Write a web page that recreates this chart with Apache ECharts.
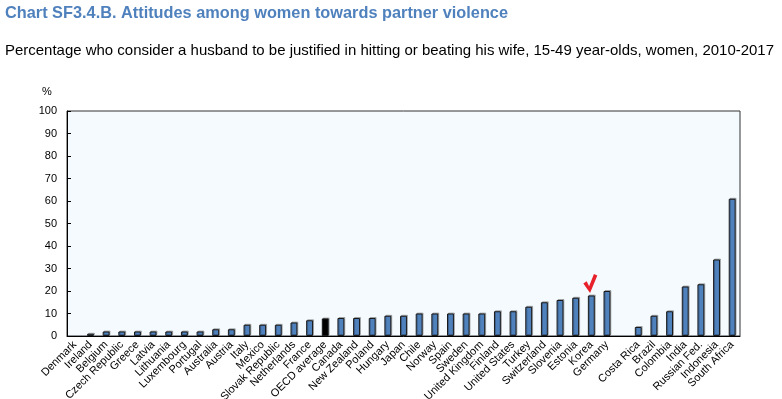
<!DOCTYPE html>
<html><head><meta charset="utf-8">
<script src="https://cdn.jsdelivr.net/npm/echarts@6/dist/echarts.min.js"></script>
<style>html,body{margin:0;padding:0;background:#fff}#c{width:782px;height:399px}</style>
</head><body><div id="c"></div>
<script>
const categories = ["Denmark","Ireland","Belgium","Czech Republic","Greece","Latvia","Lithuania","Luxembourg","Portugal","Australia","Austria","Italy","Mexico","Slovak Republic","Netherlands","France","OECD average","Canada","New Zealand","Poland","Hungary","Japan","Chile","Norway","Spain","Sweden","United Kingdom","Finland","United States","Turkey","Switzerland","Slovenia","Estonia","Korea","Germany","","Costa Rica","Brazil","Colombia","India","Russian Fed.","Indonesia","South Africa"];
const values = [null,1,2,2,2,2,2,2,2,3,3,5,5,5,6,7,7.8,8,8,8,9,9,10,10,10,10,10,11,11,13,15,16,17,18,20,null,4,9,11,22,23,34,61];
const yTicks = {min:0, max:100, interval:10};
const highlight = "OECD average";
const marked = "Korea";
const titleText = 'Chart SF3.4.B. Attitudes among women towards partner violence';
const subtitleText = 'Percentage who consider a husband to be justified in hitting or beating his wife, 15-49 year-olds, women, 2010-2017';

function fitScale(text, font, target){
  const ctx = document.createElement('canvas').getContext('2d');
  ctx.font = font;
  return target / ctx.measureText(text).width;
}
const titleFont = 'bold 17px "Liberation Sans"';
const subFont = '15px "Liberation Sans"';
const titleScale = fitScale(titleText, titleFont, 503);
const subScale = fitScale(subtitleText, subFont, 769);

const chart = echarts.init(document.getElementById('c'), null, {renderer:'canvas'});
const data = values.map((v,i)=> categories[i]===highlight ? {value:v, itemStyle:{color:'#000000'}} : (v===null?'-':v));
const markIdx = categories.indexOf(marked);
chart.setOption({
  animation:false,
  backgroundColor:'#ffffff',
  graphic:[
    {type:'text', x:5, y:5, scaleX:titleScale, style:{text:titleText, font:titleFont, fill:'#4F81BD', textVerticalAlign:'top'}},
    {type:'text', x:5, y:43, scaleX:subScale, style:{text:subtitleText, font:subFont, fill:'#000', textVerticalAlign:'top'}},
    {type:'text', x:42, y:86, style:{text:'%', font:'11px "Liberation Sans"', fill:'#000', textVerticalAlign:'top'}}
  ],
  grid:{left:67, right:42, top:111, bottom:63, show:true, backgroundColor:'#F4FAFE', borderColor:'#333', borderWidth:1, containLabel:false, outerBoundsMode:'none'},
  xAxis:{type:'category', data:categories,
    axisLine:{lineStyle:{color:'#000', width:1}},
    axisTick:{inside:true, length:4, lineStyle:{color:'#000'}},
    axisLabel:{rotate:45, interval:0, margin:7, fontFamily:'Liberation Sans', fontSize:11, color:'#000'}},
  yAxis:{type:'value', min:yTicks.min, max:yTicks.max, interval:yTicks.interval,
    splitLine:{show:false},
    axisLine:{show:true, lineStyle:{color:'#000'}},
    axisTick:{show:true, inside:true, length:4, lineStyle:{color:'#000'}},
    axisLabel:{margin:10, fontFamily:'Liberation Sans', fontSize:11, color:'#000'}},
  series:[{type:'bar', data:data, barWidth:'44%',
    itemStyle:{color:'#4F81BD', borderColor:'#1a1a1a', borderWidth:1, shadowColor:'rgba(0,0,0,0.25)', shadowOffsetX:1, shadowOffsetY:-1, shadowBlur:0},
    markPoint:{silent:true, label:{show:false},
      data:[{coord:[markIdx, values[markIdx]], symbol:'path://M0,10 L3.5,7.5 L6,13 L11,0 L14.5,1.5 L7,20 Z', symbolSize:[14,19], symbolOffset:[-1,-12], itemStyle:{color:'#E8202A'}}]}
  }]
});
</script></body></html>
